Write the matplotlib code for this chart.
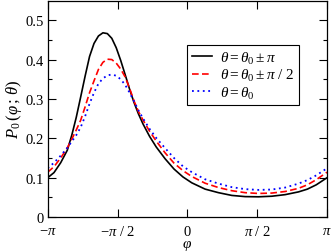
import numpy as np
import matplotlib
matplotlib.use('Agg')
import matplotlib.pyplot as plt

# angle grid (rad) and readings of the three curves
phi = [-3.1416, -3.00, -2.85, -2.70, -2.60, -2.50, -2.40, -2.30, -2.20, -2.10,
       -2.00, -1.90, -1.80, -1.70, -1.60, -1.50, -1.40, -1.30, -1.20, -1.10,
       -1.00, -0.85, -0.70, -0.50, -0.30, -0.10, 0.10, 0.40, 0.70, 1.00,
       1.30, 1.60, 1.90, 2.20, 2.50, 2.70, 2.90, 3.1416]

p_pi = [0.100, 0.113, 0.138, 0.170, 0.208, 0.253, 0.305, 0.358, 0.408, 0.441,
        0.460, 0.468, 0.466, 0.454, 0.430, 0.398, 0.362, 0.325, 0.291, 0.262,
        0.237, 0.205, 0.178, 0.148, 0.122, 0.102, 0.087, 0.071, 0.062, 0.055,
        0.052, 0.0515, 0.053, 0.057, 0.064, 0.071, 0.082, 0.100]

p_half = [0.114, 0.128, 0.150, 0.176, 0.198, 0.221, 0.246, 0.280, 0.316, 0.346,
          0.375, 0.393, 0.401, 0.400, 0.391, 0.376, 0.356, 0.327, 0.295, 0.268,
          0.247, 0.218, 0.193, 0.163, 0.137, 0.118, 0.103, 0.086, 0.075, 0.067,
          0.062, 0.060, 0.061, 0.065, 0.073, 0.082, 0.095, 0.114]

p_zero = [0.124, 0.138, 0.156, 0.176, 0.192, 0.208, 0.228, 0.256, 0.288, 0.316,
          0.339, 0.352, 0.360, 0.362, 0.359, 0.350, 0.336, 0.316, 0.294, 0.271,
          0.251, 0.224, 0.201, 0.175, 0.150, 0.129, 0.114, 0.096, 0.085, 0.076,
          0.071, 0.069, 0.070, 0.075, 0.085, 0.094, 0.106, 0.124]

labels = [r'$\theta = \theta_0 \pm \pi$', r'$\theta = \theta_0 \pm \pi\ /\ 2$',
          r'$\theta = \theta_0$']

xticks = [-np.pi, -np.pi / 2, 0, np.pi / 2, np.pi]
xticklabels = [r'$-\pi$', r'$-\pi\ /\ 2$', r'$0$', r'$\pi\ /\ 2$', r'$\pi$']

plt.rcParams['font.family'] = 'Liberation Serif'
plt.rcParams['mathtext.fontset'] = 'custom'
plt.rcParams['mathtext.rm'] = 'Liberation Serif'
plt.rcParams['mathtext.it'] = 'Liberation Serif:italic'
plt.rcParams['font.size'] = 10

fig = plt.figure(figsize=(3.32, 2.53), dpi=100)
ax = fig.add_axes([0.1437, 0.138, 0.8413, 0.856])

ax.plot(phi, p_pi, color='black', lw=1.2, label=labels[0])
ax.plot(phi, p_half, color='red', lw=1.2, ls=(0, (4, 2)), label=labels[1])
ax.plot(phi, p_zero, color='blue', lw=1.3, ls=(0, (1, 2)), label=labels[2])

ax.set_xlim(-np.pi, np.pi)
ax.set_ylim(0, 0.55)
ax.set_xticks(xticks)
ax.set_xticklabels(xticklabels)
ax.set_yticks([0, 0.1, 0.2, 0.3, 0.4, 0.5])
ax.set_yticklabels(['0', '0.1', '0.2', '0.3', '0.4', '0.5'])
ax.set_yticks(np.arange(0.05, 0.55, 0.1), minor=True)
ax.tick_params(which='both', direction='in', top=True, right=True, width=0.8,
               labelsize=10.5)
ax.tick_params(axis='x', pad=5)
ax.tick_params(axis='y', pad=3)
ax.tick_params(which='major', length=6)
ax.tick_params(which='minor', length=3)
for s in ax.spines.values():
    s.set_linewidth(0.9)

ax.set_xlabel(r'$\varphi$', fontsize=11, labelpad=0)
ax.set_ylabel(r'$P_0\,(\varphi\,;\,\theta)$', fontsize=12, labelpad=1)

leg = ax.legend(loc='upper right', bbox_to_anchor=(0.898, 0.795), fontsize=11,
                handlelength=1.3, handletextpad=0.5, labelspacing=0.1,
                borderpad=0.3, borderaxespad=0, fancybox=False, framealpha=1)
leg.get_frame().set_edgecolor('black')
leg.get_frame().set_linewidth(0.8)

plt.savefig('out.png', dpi=100)
